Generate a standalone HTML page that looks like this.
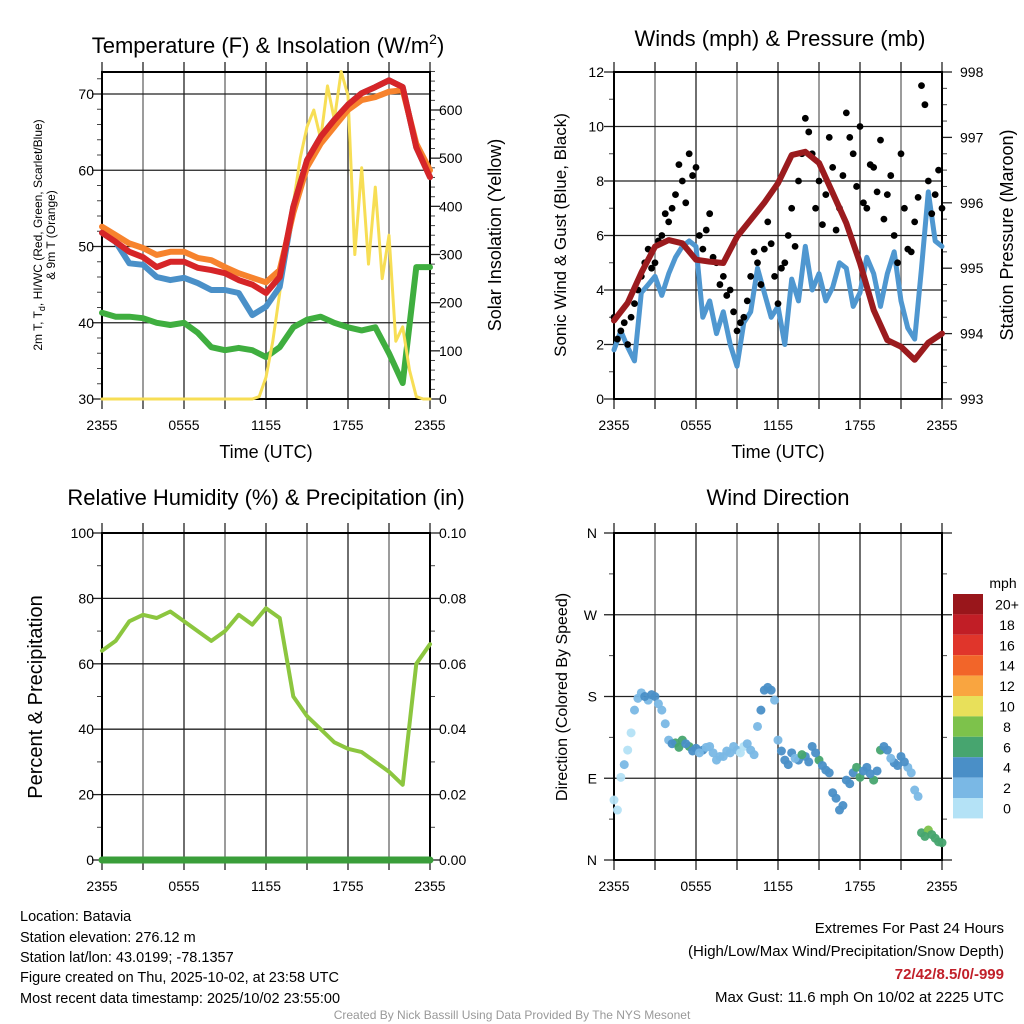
<!DOCTYPE html>
<html><head><meta charset="utf-8"><style>
body{margin:0;background:#fff}
svg{display:block;font-family:"Liberation Sans",sans-serif}
</style></head><body>
<svg id="s" width="1024" height="1024" viewBox="0 0 1024 1024" xmlns="http://www.w3.org/2000/svg">
<g id="g"></g>
<g font-size="22" text-anchor="middle">
<text x="268" y="53">Temperature (F) &amp; Insolation (W/m<tspan dy="-9" font-size="14">2</tspan><tspan dy="9">)</tspan></text>
<text x="780" y="46">Winds (mph) &amp; Pressure (mb)</text>
<text x="266" y="505">Relative Humidity (%) &amp; Precipitation (in)</text>
<text x="778" y="505">Wind Direction</text>
</g>
<g font-size="18" text-anchor="middle">
<text x="266" y="458">Time (UTC)</text>
<text x="778" y="458">Time (UTC)</text>
<text transform="translate(501,235) rotate(-90)">Solar Insolation (Yellow)</text>
<text transform="translate(1013,235) rotate(-90)">Station Pressure (Maroon)</text>
<text transform="translate(566,235) rotate(-90)" font-size="17">Sonic Wind &amp; Gust (Blue, Black)</text>
<text transform="translate(42,697) rotate(-90)" font-size="20">Percent &amp; Precipitation</text>
<text transform="translate(567,697) rotate(-90)" font-size="16">Direction (Colored By Speed)</text>
<text transform="translate(42,235) rotate(-90)" font-size="12">2m T, T<tspan dy="3" font-size="9">d</tspan><tspan dy="-3">, HI/WC (Red, Green, Scarlet/Blue)</tspan></text>
<text transform="translate(55,235) rotate(-90)" font-size="12">&amp; 9m T (Orange)</text>
</g>
<g font-size="14.5">
<text x="20" y="921">Location: Batavia</text>
<text x="20" y="942">Station elevation: 276.12 m</text>
<text x="20" y="962">Station lat/lon: 43.0199; -78.1357</text>
<text x="20" y="982">Figure created on Thu, 2025-10-02, at 23:58 UTC</text>
<text x="20" y="1003">Most recent data timestamp: 2025/10/02 23:55:00</text>
</g>
<g font-size="15" text-anchor="end">
<text x="1004" y="933">Extremes For Past 24 Hours</text>
<text x="1004" y="956">(High/Low/Max Wind/Precipitation/Snow Depth)</text>
<text x="1004" y="979" fill="#c1202a" font-weight="bold">72/42/8.5/0/-999</text>
<text x="1004" y="1002">Max Gust: 11.6 mph On 10/02 at 2225 UTC</text>
</g>
<text x="512" y="1019" font-size="12" fill="#999" text-anchor="middle">Created By Nick Bassill Using Data Provided By The NYS Mesonet</text>
</svg>
<script>
const hours = [0,1,2,3,4,5,6,7,8,9,10,11,12,13,14,15,16,17,18,19,20,21,22,23,24];
const xTickLabels = ["2355","0555","1155","1755","2355"];
const tempRed = [51.8,50.6,49.3,48.6,47.3,48.0,48.0,47.2,46.9,46.5,45.6,45.0,43.9,46.0,55.2,61.3,64.4,66.6,68.6,70.1,70.9,71.8,70.9,63.0,59.1];
const temp9m = [52.6,51.5,50.4,49.8,48.9,49.3,49.3,48.5,48.2,47.3,46.5,45.9,45.3,46.9,54.4,60.4,63.5,65.7,67.9,69.2,69.6,70.3,70.5,63.5,60.0];
const heatWind = [51.8,50.6,47.8,47.6,46.0,45.6,45.9,45.2,44.3,44.3,43.9,41.0,42.1,44.7,55.2,61.3,64.4,66.6,68.6,70.1,70.9,71.8,70.9,63.0,59.1];
const dewpoint = [41.3,40.8,40.8,40.6,40.0,39.7,40.0,38.7,36.8,36.4,36.7,36.4,35.5,36.8,39.4,40.4,40.8,40.0,39.4,39.0,39.4,36.0,32.1,47.3,47.3];
const halfHours = [0,0.5,1,1.5,2,2.5,3,3.5,4,4.5,5,5.5,6,6.5,7,7.5,8,8.5,9,9.5,10,10.5,11,11.5,12,12.5,13,13.5,14,14.5,15,15.5,16,16.5,17,17.5,18,18.5,19,19.5,20,20.5,21,21.5,22,22.5,23,23.5,24];
const insolation = [0,0,0,0,0,0,0,0,0,0,0,0,0,0,0,0,0,0,0,0,0,0,0,5,45,120,220,330,405,500,565,600,540,650,580,680,630,300,480,280,440,250,340,120,150,60,5,0,0];
const pressure = [994.2,994.47,994.93,995.33,995.43,995.38,995.13,995.1,995.08,995.48,995.74,996.0,996.3,996.73,996.78,996.61,996.15,995.69,995.08,994.36,993.9,993.8,993.6,993.86,994.0];
const sonicWind = [1.8,2.5,1.9,1.4,3.9,4.2,4.5,3.8,4.6,5.2,5.6,5.8,5.6,3.0,3.6,2.4,3.2,2.0,1.2,2.8,3.2,4.8,3.9,3.0,3.4,2.0,4.4,3.6,5.6,4.0,4.6,3.6,4.1,5.0,4.8,3.4,3.9,5.2,4.6,3.4,4.6,5.4,3.6,2.6,2.2,4.8,7.6,5.8,5.6];
const gust = [3,2.5,2,3.5,4.5,5.5,5,6,6.5,7.5,8,9,8.5,5.5,6.8,5,4.5,4,2.5,3,4.5,5,5.5,5.7,3.5,5,7,8,10.3,9,8,7.5,8.5,7,10.5,9,10,7,8.5,9.5,7.5,6,9,5.5,6.5,11.5,8,7.5,7];
const gust2 = [2.2,2.8,3,4,5,4.8,5.8,6.8,7,8.6,7.2,8.2,6,6.2,5.2,4.2,3.8,3.2,2.8,3.6,5.4,4.2,6.5,4.5,4.8,6,5.6,9,9.8,7,6.4,9.6,6.2,8.2,9.6,7.8,7.2,8.6,7.6,6.6,8.2,5,7,5.4,7.4,10.8,6.8,8.4,6.4];
const humidity = [64,67,73,75,74,76,73,70,67,70,75,72,77,74,50,44,40,36,34,33,30,27,23,60,66];
const precip = [0,0,0,0,0,0,0,0,0,0,0,0,0,0,0,0,0,0,0,0,0,0,0,0,0];
const direction = [66,91,121,165,184,176,180,165,132,129,132,125,123,121,125,110,114,118,121,125,121,147,187,187,132,110,118,110,114,125,110,99,74,55,88,96,91,102,88,121,121,107,114,102,77,30,33,24,19];
const direction2 = [55,105,140,178,180,182,172,150,128,124,128,120,118,124,118,114,120,125,118,128,116,165,190,176,120,105,112,116,108,118,104,96,68,60,84,102,98,95,98,125,112,104,108,96,70,26,28,20,16];
const dirSpeed = [1.5,1.8,1.6,2.5,3.5,3.8,4.2,3.5,3.6,6.5,6.8,6.2,4.5,4.2,3.8,3.2,3.6,2.4,2.2,1.8,2.5,3.5,4.5,4.2,3.2,4.5,4.2,4.8,5.2,5.5,6.3,4.6,4.2,4.5,5.2,4.6,6.5,4.8,6.6,7.0,4.5,5.5,4.2,3.4,2.8,7.2,8.2,6.6,6.4];
const dirSpeed2 = [1.2,2.4,1.4,2.8,4.4,4.6,3.6,3.2,4.2,6.2,4.4,4.6,3.4,2.6,3.6,2.8,2.2,2.6,1.6,2.4,3.4,4.2,4.6,2.6,4.6,4.8,3.6,6.2,4.4,4.2,4.6,4.4,5.4,4.4,4.8,6.4,4.6,4.4,4.8,4.2,3.2,4.8,4.6,3.2,2.4,6.8,6.4,6.2,6.4];
const tempTicks = [30,40,50,60,70];
const insolTicks = [0,100,200,300,400,500,600];
const windTicks = [0,2,4,6,8,10,12];
const presTicks = [993,994,995,996,997,998];
const rhTicks = [0,20,40,60,80,100];
const prTicks = ["0.00","0.02","0.04","0.06","0.08","0.10"];
const dirTicks = [0,90,180,270,360];
const dirLabels = ["N","E","S","W","N"];
const speedBins = ["0","2","4","6","8","10","12","14","16","18","20+"];
const speedColors = ["#b4e2f6","#7ab8e5","#4a8fc7","#47a56f","#7dc24b","#e8e05a","#f9a540","#f26529","#e0352b","#c11e26","#99161b"];

const NS="http://www.w3.org/2000/svg";
const G=document.getElementById('g');
function mk(tag,attrs,parent){const e=document.createElementNS(NS,tag);for(const k in attrs)e.setAttribute(k,attrs[k]);(parent||G).appendChild(e);return e;}
function txt(s,x,y,anchor,size,parent){const t=mk('text',{x:x,y:y,'text-anchor':anchor,'font-size':size},parent);t.textContent=s;return t;}
function lin(d0,d1,r0,r1){return v=>r0+(v-d0)*(r1-r0)/(d1-d0);}

const P1={x0:102,x1:430,y0:72,y1:399};
const P2={x0:614,x1:942,y0:72,y1:399};
const P3={x0:102,x1:430,y0:533,y1:860};
const P4={x0:614,x1:942,y0:533,y1:860};

function frame(P,name,yMajor,yScale,minorVals,rMajor,rScale,rMinor){
  const g=mk('g',{});
  
  
  const xs=lin(0,24,P.x0,P.x1);
  for(let h=3;h<24;h+=3){mk('line',{x1:xs(h),x2:xs(h),y1:P.y0,y2:P.y1,stroke:h%6?'#666':'#222','stroke-width':1.3},g);}
  for(let h=0;h<=24;h+=3){mk('line',{x1:xs(h),x2:xs(h),y1:P.y0-10,y2:P.y0,stroke:'#222','stroke-width':1.3},g);mk('line',{x1:xs(h),x2:xs(h),y1:P.y1,y2:P.y1+10,stroke:'#222','stroke-width':1.3},g);}
  xTickLabels.forEach((l,i)=>txt(l,xs(i*6),P.y1+31,'middle',14,g));
  yMajor.forEach(v=>{const y=yScale(v);mk('line',{x1:P.x0,x2:P.x1,y1:y,y2:y,stroke:'#222','stroke-width':1.3},g);mk('line',{x1:P.x0-10,x2:P.x0,y1:y,y2:y,stroke:'#222','stroke-width':1.3},g);});
  (minorVals||[]).forEach(v=>{const y=yScale(v);mk('line',{x1:P.x0-5,x2:P.x0,y1:y,y2:y,stroke:'#444','stroke-width':1},g);});
  (rMajor||[]).forEach(v=>{const y=rScale(v);mk('line',{x1:P.x1,x2:P.x1+10,y1:y,y2:y,stroke:'#222','stroke-width':1.3},g);});
  (rMinor||[]).forEach(v=>{const y=rScale(v);mk('line',{x1:P.x1,x2:P.x1+5,y1:y,y2:y,stroke:'#444','stroke-width':1},g);});
  mk('rect',{x:P.x0,y:P.y0,width:P.x1-P.x0,height:P.y1-P.y0,fill:'none',stroke:'#000','stroke-width':2},g);
  return xs;
}
function path(xs,ys,xv,yv,attrs,name){
  let d='';let pen=false;
  xv.forEach((x,i)=>{const v=yv[i];if(v==null){pen=false;return;}d+=(pen?'L':'M')+xs(x).toFixed(1)+','+ys(v).toFixed(1);pen=true;});
  const p=mk('path',Object.assign({d:d,fill:'none','stroke-linejoin':'round','stroke-linecap':'round'},attrs));
  
  
  return p;
}

// Panel 1
const t1=lin(30,70,399,94), i1=lin(0,600,399,110);
const minorT=[];for(let v=32;v<=72;v+=2)if(v%10)minorT.push(v);
const minorI=[];for(let v=20;v<=680;v+=20)if(v%100)minorI.push(v);
const xs1=frame(P1,'temperature',tempTicks,t1,minorT,insolTicks,i1,minorI);
tempTicks.forEach(v=>txt(String(v),94,t1(v)+5,'end',14));
insolTicks.forEach(v=>txt(String(v),439,i1(v)+5,'start',14));
path(xs1,t1,hours,dewpoint,{stroke:'#3fae3f','stroke-width':6},'dewpoint-line');
path(xs1,i1,halfHours,insolation,{stroke:'#f7de55','stroke-width':3},'insolation-line');
path(xs1,t1,hours,heatWind,{stroke:'#4a90c8','stroke-width':6},'heat-index-windchill-line');
path(xs1,t1,hours,temp9m,{stroke:'#f7832d','stroke-width':6},'temp-9m-line');
path(xs1,t1,hours,tempRed,{stroke:'#d62528','stroke-width':6},'temp-2m-line');

// Panel 2
const w2=lin(0,12,399,72), p2=lin(993,998,399,72);
const minorW=[];for(let v=1;v<12;v+=2)minorW.push(v);
const minorP=[];for(let v=993.25;v<998;v+=0.25)if(Math.abs(v-Math.round(v))>0.01)minorP.push(v);
const xs2=frame(P2,'winds',windTicks,w2,minorW,presTicks,p2,minorP);
windTicks.forEach(v=>txt(String(v),604,w2(v)+5,'end',14));
presTicks.forEach(v=>txt(String(v),960,p2(v)+5,'start',14));
path(xs2,w2,halfHours,sonicWind,{stroke:'#4f97d0','stroke-width':5},'sonic-wind-line');
halfHours.forEach((h,i)=>{const c=mk('circle',{cx:xs2(h),cy:w2(gust[i]),r:3.4,fill:'#000'});

});
halfHours.forEach((h,i)=>{if(h+0.25>24)return;const c=mk('circle',{cx:xs2(h+0.25),cy:w2(gust2[i]),r:3.4,fill:'#000'});

});
path(xs2,p2,hours,pressure,{stroke:'#9b1b1e','stroke-width':6},'pressure-line');

// Panel 3
const r3=lin(0,100,860,533), pr3=lin(0,0.1,860,533);
const minorR=[];for(let v=10;v<100;v+=20)minorR.push(v);
const xs3=frame(P3,'humidity',rhTicks,r3,minorR,rhTicks,r3,minorR);
rhTicks.forEach(v=>txt(String(v),94,r3(v)+5,'end',14));
prTicks.forEach((l,i)=>txt(l,439,r3(i*20)+5,'start',14));
path(xs3,r3,hours,humidity,{stroke:'#8cc63f','stroke-width':4},'humidity-line');
path(xs3,pr3,hours,precip,{stroke:'#3a9e3a','stroke-width':7},'precipitation-line');

// Panel 4
const d4=lin(0,360,860,533);
const minorD=[45,135,225,315];
const xs4=frame(P4,'direction',dirTicks,d4,minorD,dirTicks,d4,minorD);
dirLabels.forEach((l,i)=>txt(l,597,d4(dirTicks[i])+5,'end',14));
function colorFor(s){let k=Math.min(10,Math.floor(s/2));return speedColors[k];}
halfHours.forEach((h,i)=>{const c=mk('circle',{cx:xs4(h),cy:d4(direction[i]),r:4.5,fill:colorFor(dirSpeed[i]),'fill-opacity':0.95});

});
halfHours.forEach((h,i)=>{if(h+0.25>24)return;const c=mk('circle',{cx:xs4(h+0.25),cy:d4(direction2[i]),r:4.5,fill:colorFor(dirSpeed2[i]),'fill-opacity':0.95});

});

// Colorbar
const cb=mk('g',{});


txt('mph',1003,588,'middle',14,cb);
speedBins.forEach((l,i)=>{const k=speedBins.length-1-i;const y=594+i*20.4;
const r=mk('rect',{x:953,y:y,width:30,height:20.4,fill:speedColors[k]},cb);


txt(speedBins[k],1007,y+15.5,'middle',14,cb);});
</script>
</body></html>
